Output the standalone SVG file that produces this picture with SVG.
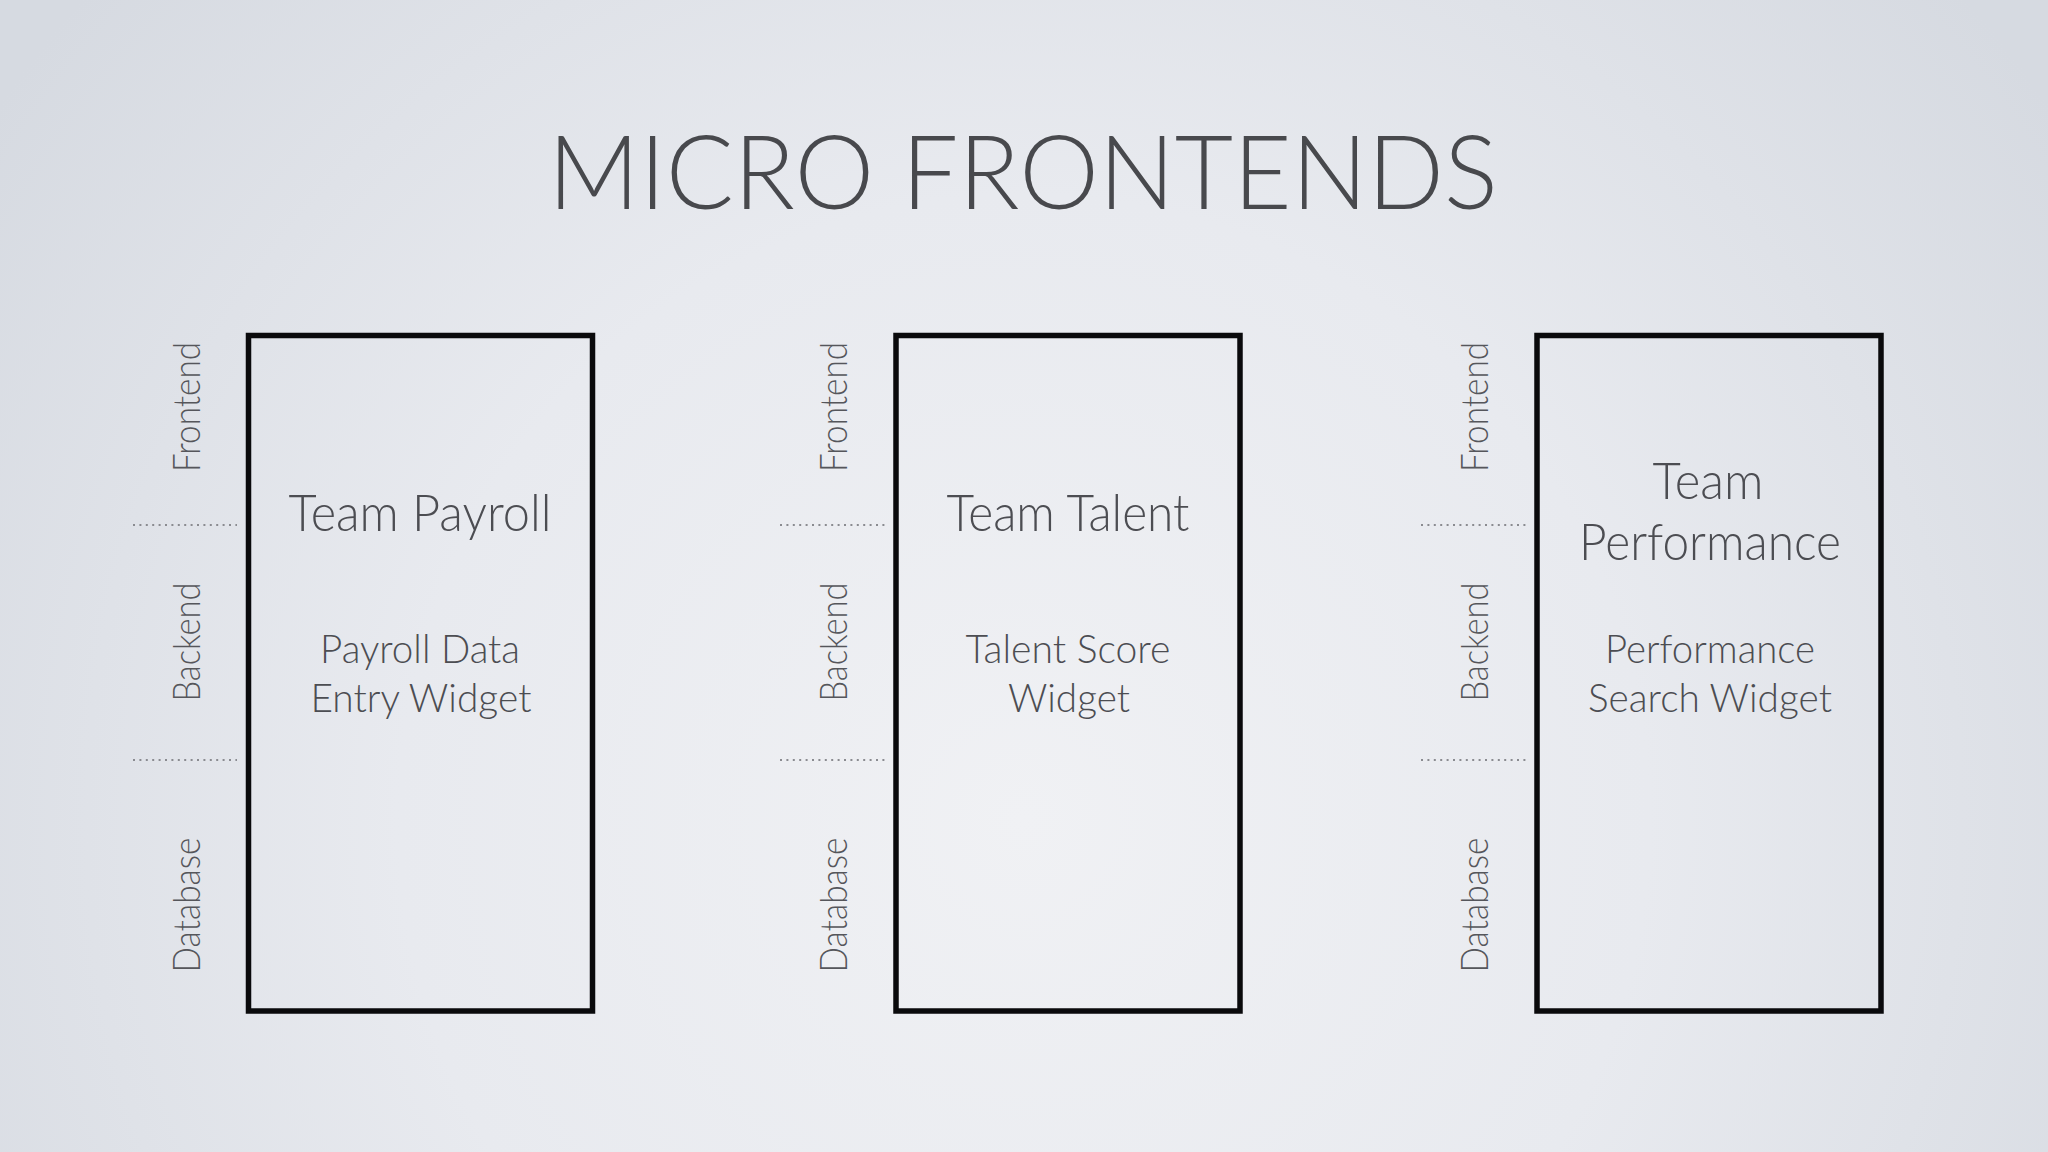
<svg xmlns="http://www.w3.org/2000/svg" width="2048" height="1152" viewBox="0 0 2048 1152">
  <defs>
    <radialGradient id="bg" cx="1024" cy="820" r="1250" gradientUnits="userSpaceOnUse">
      <stop offset="0" stop-color="#f0f1f4"/>
      <stop offset="0.5" stop-color="#e8eaef"/>
      <stop offset="1" stop-color="#d6dae1"/>
    </radialGradient>
  </defs>
  <style>
    .box { fill: none; stroke: #0a0a0c; stroke-width: 5.5; }
    .dots { stroke: #8a8b90; stroke-width: 2.2; stroke-dasharray: 2 4.4; fill: none; }
    .t { font-family: Lato, "Open Sans", "Liberation Sans", sans-serif; font-weight: 300; fill: #4c4d52; text-anchor: middle; }
    .title { font-size: 103px; fill: #48494d; }
    .team { font-size: 52px; }
    .widget { font-size: 40px; }
    .side { font-size: 37px; fill: #55565b; }
  </style>
  <rect width="2048" height="1152" fill="url(#bg)"/>

  <text class="t title" x="1023" y="209" textLength="950" lengthAdjust="spacingAndGlyphs">MICRO FRONTENDS</text>

  <g id="connectors">
    <line class="dots" x1="133" y1="525" x2="237" y2="525"/>
    <line class="dots" x1="133" y1="760" x2="237" y2="760"/>
    <line class="dots" x1="780" y1="525" x2="885" y2="525"/>
    <line class="dots" x1="780" y1="760" x2="885" y2="760"/>
    <line class="dots" x1="1421" y1="525" x2="1526" y2="525"/>
    <line class="dots" x1="1421" y1="760" x2="1526" y2="760"/>
  </g>

  <g id="layer-labels-1">
    <text class="t side" transform="translate(200,407) rotate(-90)" textLength="130" lengthAdjust="spacingAndGlyphs">Frontend</text>
    <text class="t side" transform="translate(200,642) rotate(-90)" textLength="119" lengthAdjust="spacingAndGlyphs">Backend</text>
    <text class="t side" transform="translate(200,905) rotate(-90)" textLength="135" lengthAdjust="spacingAndGlyphs">Database</text>
  </g>
  <g id="layer-labels-2">
    <text class="t side" transform="translate(847,407) rotate(-90)" textLength="130" lengthAdjust="spacingAndGlyphs">Frontend</text>
    <text class="t side" transform="translate(847,642) rotate(-90)" textLength="119" lengthAdjust="spacingAndGlyphs">Backend</text>
    <text class="t side" transform="translate(847,905) rotate(-90)" textLength="135" lengthAdjust="spacingAndGlyphs">Database</text>
  </g>
  <g id="layer-labels-3">
    <text class="t side" transform="translate(1488,407) rotate(-90)" textLength="130" lengthAdjust="spacingAndGlyphs">Frontend</text>
    <text class="t side" transform="translate(1488,642) rotate(-90)" textLength="119" lengthAdjust="spacingAndGlyphs">Backend</text>
    <text class="t side" transform="translate(1488,905) rotate(-90)" textLength="135" lengthAdjust="spacingAndGlyphs">Database</text>
  </g>

  <g id="team-payroll">
    <rect class="box" x="248.5" y="335.5" width="344" height="675.5"/>
    <text class="t team" x="420" y="531" textLength="263" lengthAdjust="spacingAndGlyphs">Team Payroll</text>
    <text class="t widget" x="420" y="663" textLength="200" lengthAdjust="spacingAndGlyphs">Payroll Data</text>
    <text class="t widget" x="421" y="712" textLength="221" lengthAdjust="spacingAndGlyphs">Entry Widget</text>
  </g>

  <g id="team-talent">
    <rect class="box" x="896" y="335.5" width="344" height="675.5"/>
    <text class="t team" x="1068" y="531" textLength="243" lengthAdjust="spacingAndGlyphs">Team Talent</text>
    <text class="t widget" x="1068" y="663" textLength="205" lengthAdjust="spacingAndGlyphs">Talent Score</text>
    <text class="t widget" x="1069" y="712" textLength="122" lengthAdjust="spacingAndGlyphs">Widget</text>
  </g>

  <g id="team-performance">
    <rect class="box" x="1537" y="335.5" width="344" height="675.5"/>
    <text class="t team" x="1708" y="499" textLength="111" lengthAdjust="spacingAndGlyphs">Team</text>
    <text class="t team" x="1710" y="560" textLength="262" lengthAdjust="spacingAndGlyphs">Performance</text>
    <text class="t widget" x="1710" y="663" textLength="210" lengthAdjust="spacingAndGlyphs">Performance</text>
    <text class="t widget" x="1710" y="712" textLength="244" lengthAdjust="spacingAndGlyphs">Search Widget</text>
  </g>
</svg>
